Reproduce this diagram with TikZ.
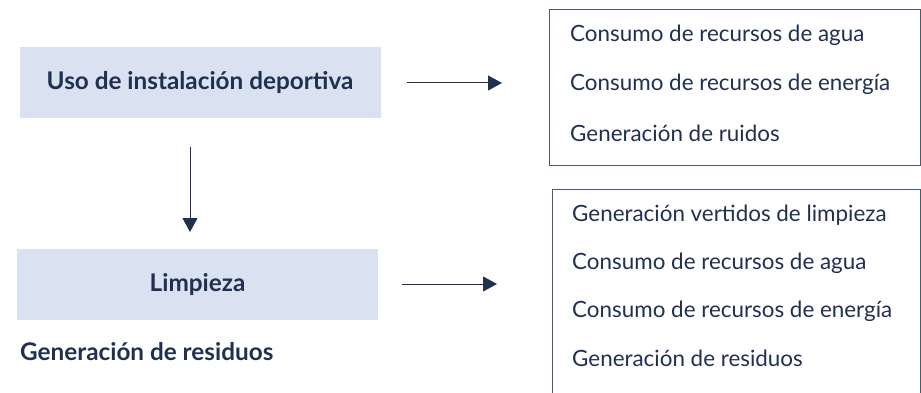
\documentclass[tikz,border=0pt]{standalone}
\usepackage{fontspec}
\setmainfont{Lato}
\usetikzlibrary{arrows.meta}
\definecolor{navy}{HTML}{1F3050}
\definecolor{boxfill}{HTML}{DAE1F1}
\definecolor{edge}{HTML}{4A5870}
\begin{document}
\begin{tikzpicture}[x=1pt,y=-1pt,
  proc/.style={fill=boxfill,draw=none,minimum width=361pt,minimum height=71pt,inner sep=0pt,text=navy,font=\fontsize{24.3}{28}\selectfont\bfseries},
  item/.style={anchor=west,inner sep=0pt,text=navy,font=\fontsize{22.4}{26}\selectfont},
  conn/.style={draw=navy,line width=1pt,-{Triangle[length=14pt,width=15pt]}},
  frame/.style={draw=edge,line width=0.8pt}]
\useasboundingbox (0,0) rectangle (921,393);
\node[proc] (uso) at (200,82.5) {Uso de instalación deportiva};
\node[proc] (limp) at (197.5,284.5) {Limpieza};
\node[item,font=\fontsize{24.3}{28}\selectfont\bfseries] (res) at (20,352) {Generación de residuos};
% right frames
\draw[frame] (920,9) -- (549,9) -- (549,165) -- (920,165) -- cycle;
\draw[frame] (920,393) -- (920,189) -- (552,189) -- (552,393);
\node[item] (a1) at (570,35) {Consumo de recursos de agua};
\node[item] (a2) at (570,84) {Consumo de recursos de energía};
\node[item] (a3) at (570,133) {Generación de ruidos};
\node[item] (b1) at (572,215) {Generación vertidos de limpieza};
\node[item] (b2) at (572,263) {Consumo de recursos de agua};
\node[item] (b3) at (572,311) {Consumo de recursos de energía};
\node[item] (b4) at (572,358) {Generación de residuos};
\coordinate (s1) at (407,83);
\coordinate (e1) at (502,83);
\coordinate (s2) at (402,284);
\coordinate (e2) at (497,284);
\coordinate (s3) at (190,147);
\coordinate (e3) at (190,232);
\draw[conn] (s1) -- (e1);
\draw[conn] (s2) -- (e2);
\draw[conn] (s3) -- (e3);
\end{tikzpicture}
\end{document}
